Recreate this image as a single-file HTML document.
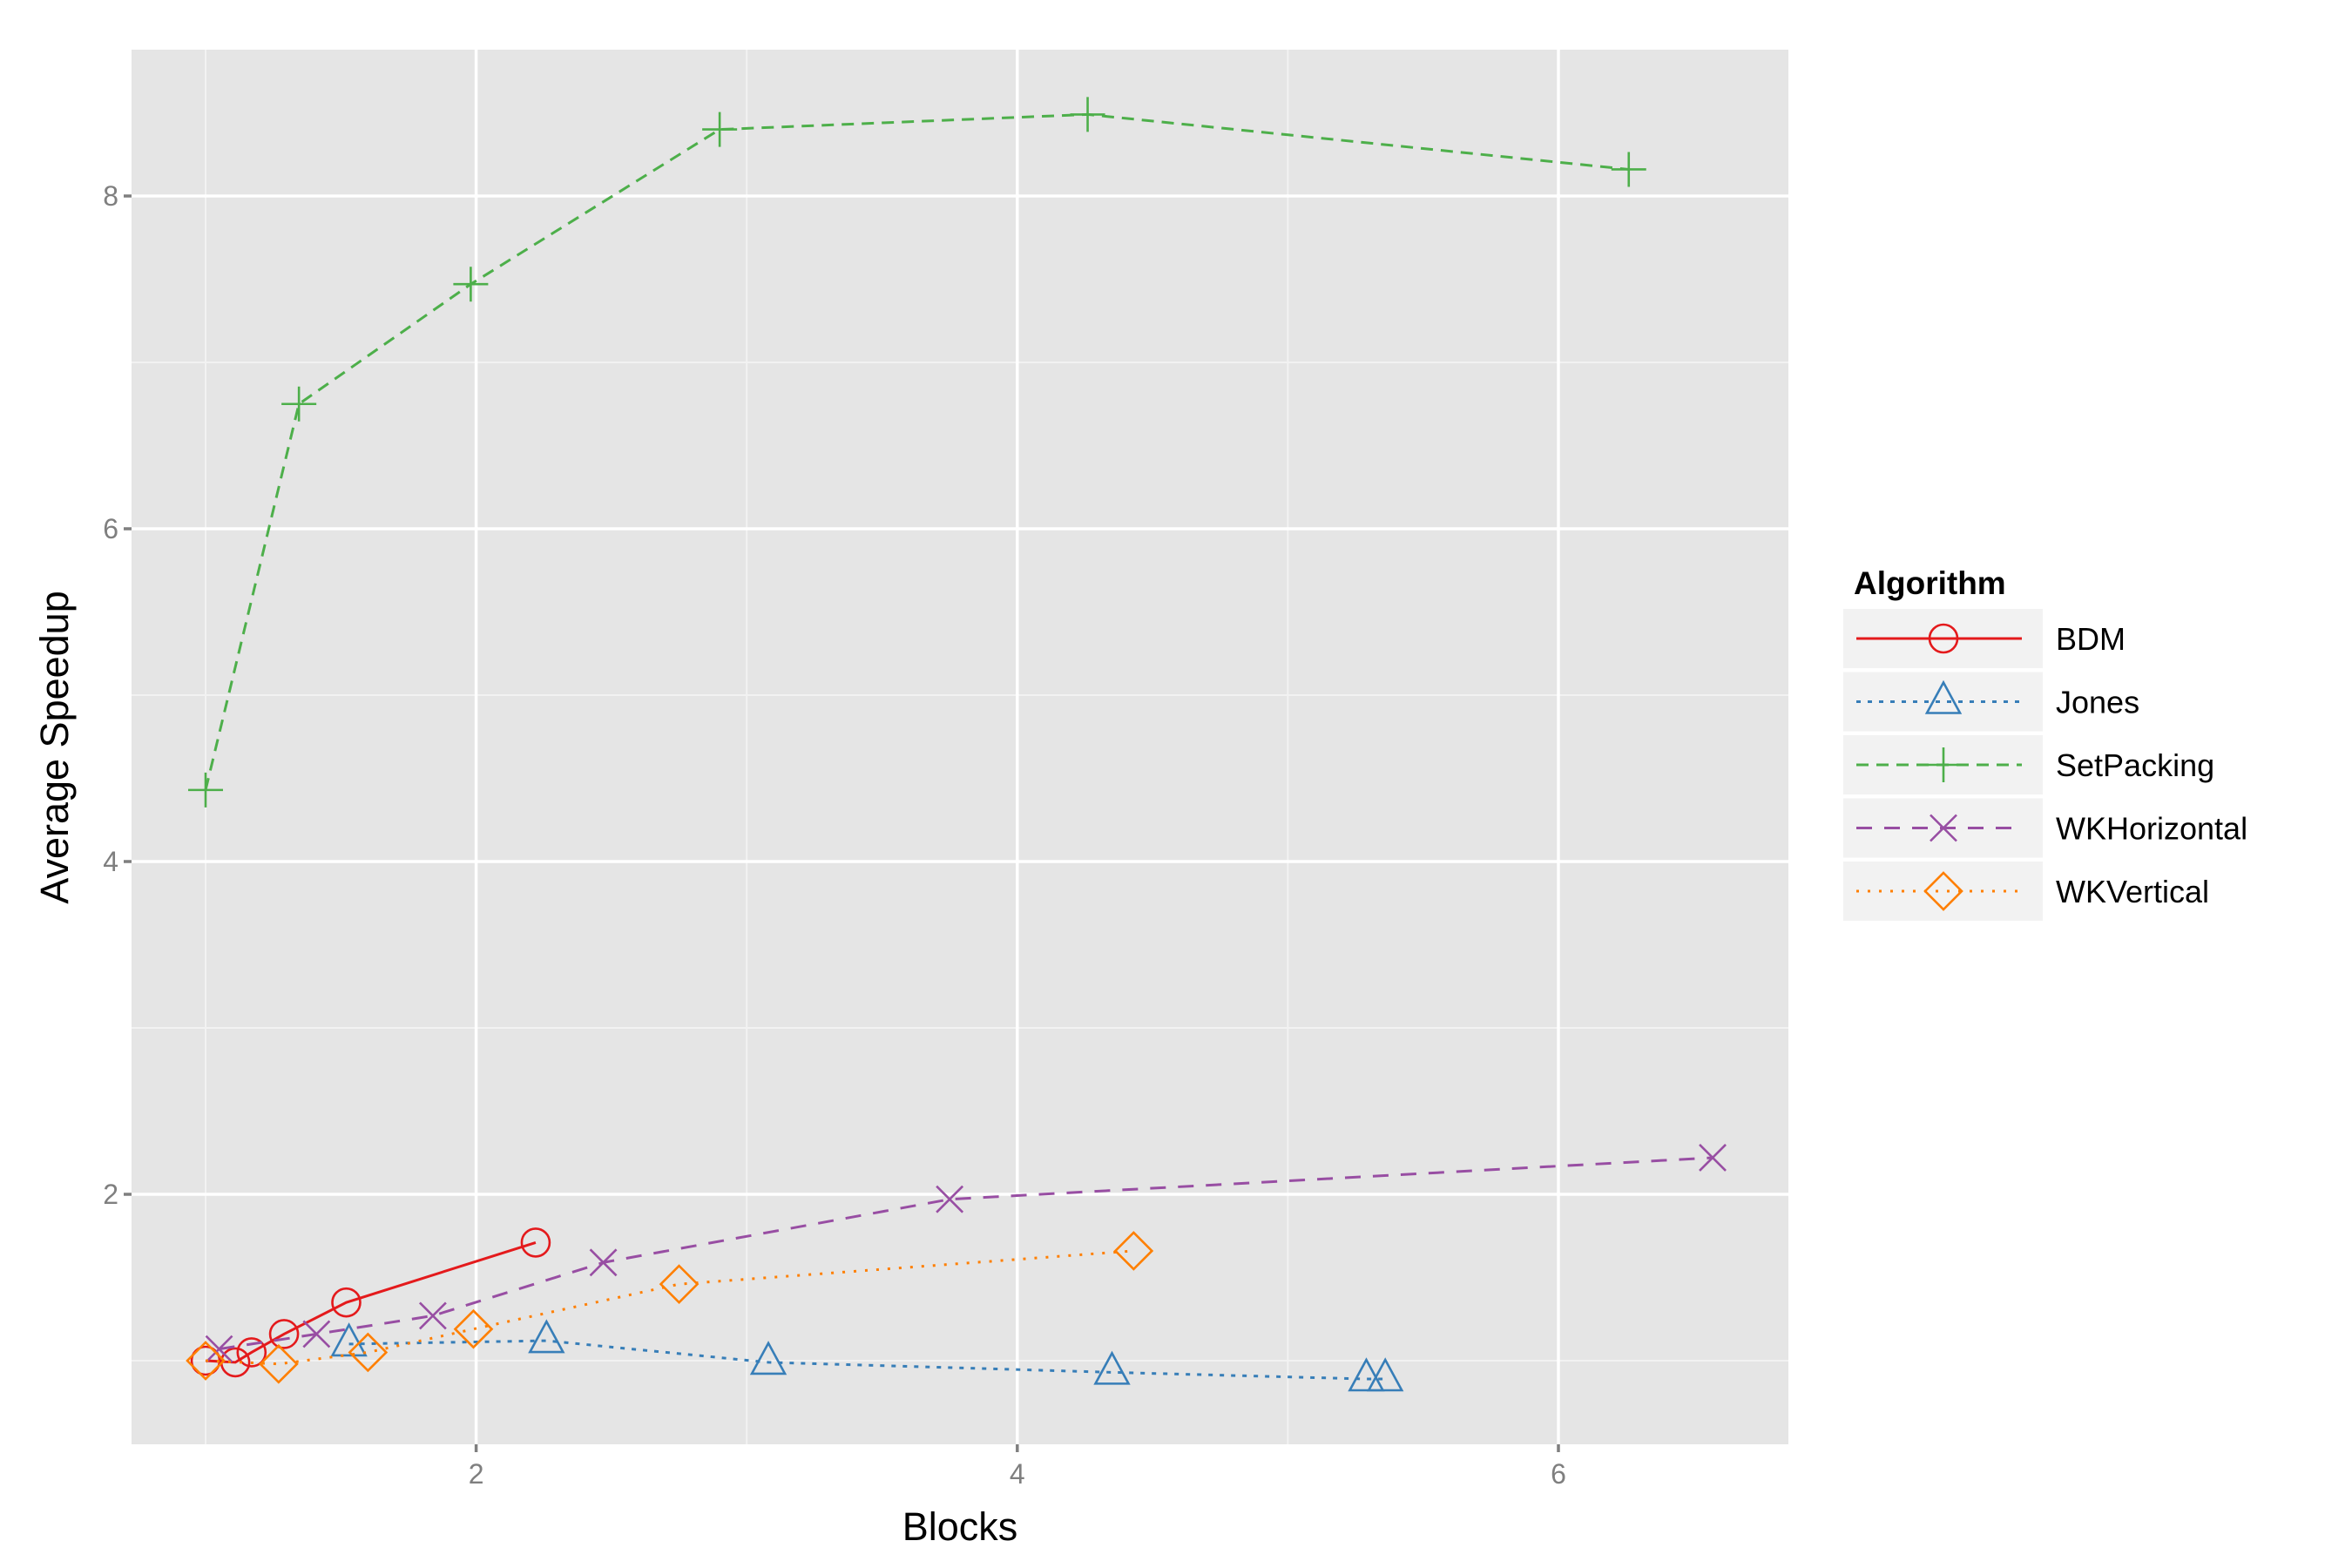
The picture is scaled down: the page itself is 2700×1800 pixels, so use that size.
<!DOCTYPE html>
<html><head><meta charset="utf-8"><style>
html,body{margin:0;padding:0;background:#fff}
svg{display:block;font-family:"Liberation Sans",Arial,sans-serif}
</style></head><body>
<svg id="chart" width="2700" height="1800" viewBox="0 0 2700 1800" xmlns="http://www.w3.org/2000/svg">
<rect x="151" y="57" width="1902" height="1601" fill="#E5E5E5"/>
<g id="grid"></g>
<g id="series"></g>
<g id="axes"></g>
<text x="1102" y="1768" font-size="45" text-anchor="middle" fill="#000">Blocks</text>
<text transform="translate(78,858) rotate(-90)" font-size="45" text-anchor="middle" fill="#000">Average Speedup</text>
<g id="legend">
<text x="2128" y="682" font-size="37" font-weight="bold">Algorithm</text>
</g>
</svg>
<script>
const seriesNames = ["BDM","Jones","SetPacking","WKHorizontal","WKVertical"];
const bdmX = [1.0,1.11,1.17,1.29,1.52,2.22];
const bdmY = [1.0,0.99,1.05,1.16,1.35,1.71];
const jonesX = [1.53,2.26,3.08,4.35,5.29,5.36];
const jonesY = [1.10,1.12,0.99,0.93,0.89,0.89];
const setPackingX = [1.0,1.345,1.98,2.90,4.26,6.26];
const setPackingY = [4.43,6.75,7.47,8.40,8.49,8.16];
const wkhX = [1.05,1.41,1.84,2.47,3.75,6.57];
const wkhY = [1.07,1.16,1.27,1.59,1.97,2.22];
const wkvX = [1.0,1.27,1.60,1.99,2.75,4.43];
const wkvY = [1.0,0.98,1.05,1.19,1.46,1.66];
const xTicks = [2,4,6];
const yTicks = [2,4,6,8];
const xMinor = [1,3,5];
const yMinor = [1,3,5,7];

const NS="http://www.w3.org/2000/svg";
const PL=151,PR=2053,PT=57,PB=1658;
const xs=v=>236+(v-1)*310.6;
const ys=v=>1371-(v-2)*191;
function mk(tag,attrs,parent){const e=document.createElementNS(NS,tag);for(const k in attrs)e.setAttribute(k,attrs[k]);parent.appendChild(e);return e;}
const grid=document.getElementById('grid'),axes=document.getElementById('axes'),ser=document.getElementById('series'),leg=document.getElementById('legend');
xMinor.forEach(v=>{const l=mk('line',{x1:xs(v),x2:xs(v),y1:PT,y2:PB,stroke:'#F2F2F2','stroke-width':2},grid);

});
yMinor.forEach(v=>{const l=mk('line',{x1:PL,x2:PR,y1:ys(v),y2:ys(v),stroke:'#F2F2F2','stroke-width':2},grid);

});
xTicks.forEach(v=>{const l=mk('line',{x1:xs(v),x2:xs(v),y1:PT,y2:PB,stroke:'#fff','stroke-width':3.5},grid);


const t=mk('line',{x1:xs(v),x2:xs(v),y1:PB,y2:PB+9,stroke:'#7F7F7F','stroke-width':3.5},axes);


const tx=mk('text',{x:xs(v),y:PB+45,'font-size':32,'text-anchor':'middle',fill:'#7F7F7F'},axes);


tx.textContent=v;});
yTicks.forEach(v=>{const l=mk('line',{x1:PL,x2:PR,y1:ys(v),y2:ys(v),stroke:'#fff','stroke-width':3.5},grid);


const t=mk('line',{x1:PL-9,x2:PL,y1:ys(v),y2:ys(v),stroke:'#7F7F7F','stroke-width':3.5},axes);


const tx=mk('text',{x:PL-15,y:ys(v)+11,'font-size':32,'text-anchor':'end',fill:'#7F7F7F'},axes);


tx.textContent=v;});

const styles=[
 {c:'#E41A1C',d:'',m:'circle'},
 {c:'#377EB8',d:'5,8',m:'triangle'},
 {c:'#4DAF4A',d:'14,9',m:'plus'},
 {c:'#984EA3',d:'18,14',m:'cross'},
 {c:'#FF7F00',d:'3,10',m:'diamond'}];
const data=[[bdmX,bdmY],[jonesX,jonesY],[setPackingX,setPackingY],[wkhX,wkhY],[wkvX,wkvY]];
function marker(type,x,y,c,parent){
 const s={fill:'none',stroke:c,'stroke-width':2.6};
 let e;
 if(type==='circle'){e=mk('circle',Object.assign({cx:x,cy:y,r:16},s),parent);}
 else if(type==='triangle'){e=mk('polygon',Object.assign({points:`${x},${y-22} ${x-19},${y+13} ${x+19},${y+13}`},s),parent);}
 else if(type==='plus'){e=mk('path',Object.assign({d:`M${x-20},${y}H${x+20}M${x},${y-20}V${y+20}`},s),parent);}
 else if(type==='cross'){e=mk('path',Object.assign({d:`M${x-15},${y-15}L${x+15},${y+15}M${x-15},${y+15}L${x+15},${y-15}`},s),parent);}
 else {e=mk('polygon',Object.assign({points:`${x},${y-21} ${x+21},${y} ${x},${y+21} ${x-21},${y}`},s),parent);}
 return e;
}
data.forEach((d,i)=>{
 const st=styles[i];
 const g=mk('g',{},ser);
 
 
 const pts=d[0].map((x,j)=>xs(x)+','+ys(d[1][j])).join(' ');
 const ln=mk('polyline',{points:pts,fill:'none',stroke:st.c,'stroke-width':3,'stroke-dasharray':st.d},g);
 
 
 d[0].forEach((x,j)=>{const m=marker(st.m,xs(x),ys(d[1][j]),st.c,g);
 
 });
 // legend
 const cy=733+i*72.5;
 const kg=mk('g',{},leg);
 
 
 mk('rect',{x:2116,y:cy-34,width:229,height:68,fill:'#F2F2F2'},kg);
 mk('line',{x1:2131,x2:2321,y1:cy,y2:cy,stroke:st.c,'stroke-width':3,'stroke-dasharray':st.d},kg);
 marker(st.m,2231,cy,st.c,kg);
 const t=mk('text',{x:2360,y:cy+13,'font-size':36,fill:'#000'},kg);
 
 
 t.textContent=seriesNames[i];
});
</script>
</body></html>
